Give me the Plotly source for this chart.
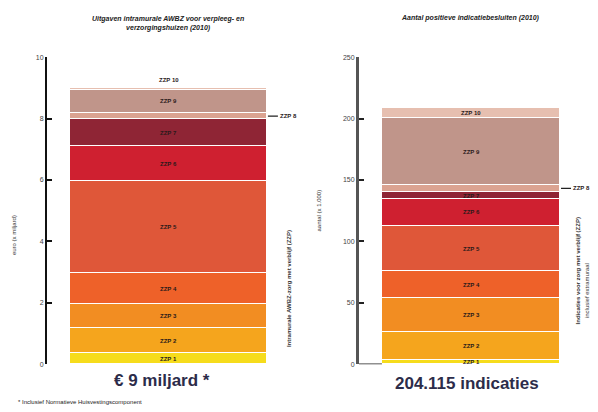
import plotly.graph_objects as go
import numpy as np

categories = ["ZZP 1", "ZZP 2", "ZZP 3", "ZZP 4", "ZZP 5", "ZZP 6", "ZZP 7", "ZZP 8", "ZZP 9", "ZZP 10"]
uitgaven = [0.37, 0.80, 0.80, 0.99, 3.01, 1.12, 0.89, 0.20, 0.76, 0.06]      # miljard euro
indicaties = [3.0, 23.0, 28.0, 21.6, 37.0, 22.0, 5.6, 6.0, 54.0, 8.0]     # x 1.000
colors = ["#f6dc1c", "#f5a51d", "#f28d22", "#ee6129", "#df5739", "#cf2030",
          "#8f2535", "#dba391", "#c0958a", "#e6bfb0"]
left_ticks = [0, 2, 4, 6, 8, 10]
right_ticks = [0, 50, 100, 150, 200, 250]

# page has an 8px body margin -> figure is 590x404 placed at (8, 8)
OFF = 8
W, H = 590, 404
FONT = "Liberation Sans Narrow, Liberation Sans, Arial"
fig = go.Figure()

def px_x(p):
    return (p - OFF) / W

def px_y(p):
    return (H - (p - OFF)) / H

ydom = [px_y(366.5), px_y(54)]
left_dom = [px_x(47), px_x(280)]
right_dom = [px_x(359), px_x(575)]

for i, cat in enumerate(categories):
    fig.add_trace(go.Bar(x=[0], y=[uitgaven[i]], name=cat, marker=dict(color=colors[i], line=dict(color="white", width=1.6)),
                         width=1, xaxis="x", yaxis="y", showlegend=False, hoverinfo="skip"))
    fig.add_trace(go.Bar(x=[0], y=[indicaties[i]], name=cat, marker=dict(color=colors[i], line=dict(color="white", width=1.6)),
                         width=1, xaxis="x2", yaxis="y2", showlegend=False, hoverinfo="skip"))

lab_font = dict(family=FONT, size=6, color="#2a1a1a")
ann = []
for vals, xr, yr, ext in [(uitgaven, "x", "y", {7: "side", 9: "above"}), (indicaties, "x2", "y2", {7: "side"})]:
    cum = np.cumsum([0] + vals)
    for i, cat in enumerate(categories):
        mid = (cum[i] + cum[i + 1]) / 2
        mode = ext.get(i)
        if mode == "side":
            ann.append(dict(x=0.5, y=mid, xref=xr, yref=yr, text="<b>" + cat + "</b>", showarrow=True, ax=10, ay=0,
                            xanchor="left", arrowhead=0, arrowwidth=1.2, arrowcolor="#222",
                            font=lab_font, standoff=0, startstandoff=0))
        elif mode == "above":
            ann.append(dict(x=0, y=cum[i + 1], xref=xr, yref=yr, text="<b>" + cat + "</b>", showarrow=False,
                            yanchor="bottom", yshift=3, font=lab_font))
        else:
            ann.append(dict(x=0, y=mid, xref=xr, yref=yr, text="<b>" + cat + "</b>", showarrow=False, font=lab_font))

title_font = dict(family=FONT, size=7, color="#222")
side_font = dict(family=FONT, size=6, color="#333")

def paper_text(x, y, text, font, **kw):
    d = dict(x=px_x(x), y=px_y(y), xref="paper", yref="paper", showarrow=False, text=text, font=font,
             xanchor="center", yanchor="middle")
    d.update(kw)
    return d

ann += [
    paper_text(168, 20, "<b><i>Uitgaven intramurale AWBZ voor verpleeg- en<br>verzorgingshuizen (2010)</i></b>", title_font),
    paper_text(470, 14, "<b><i>Aantal positieve indicatiebesluiten (2010)</i></b>", title_font),
    paper_text(162, 383, "<b>€ 9 miljard *</b>", dict(family=FONT, size=17, color="#2c2c4a")),
    paper_text(467, 386, "<b>204.115 indicaties</b>", dict(family=FONT, size=17, color="#2c2c4a")),
    paper_text(16, 405, "* Inclusief Normatieve Huisvestingscomponent", dict(family=FONT, size=6, color="#222"),
               xanchor="left"),
    paper_text(9, 235, "euro (x miljard)", side_font, textangle=-90, xanchor="left"),
    paper_text(318, 210, "aantal (x 1.000)", side_font, textangle=-90),
    paper_text(289, 290, "<b>Intramurale AWBZ-zorg met verblijf (ZZP)</b>", side_font, textangle=-90),
    paper_text(578, 272, "<b>Indicaties voor zorg met verblijf (ZZP)</b>", side_font, textangle=-90),
    paper_text(587, 292, "inclusief extramuraal", side_font, textangle=-90),
]

axis_common = dict(showgrid=False, zeroline=False, ticks="inside", ticklen=5, tickwidth=1.5,
                   tickfont=dict(family=FONT, size=7, color="#444"), showline=True)
fig.update_layout(
    width=W, height=H, margin=dict(l=0, r=0, t=0, b=0),
    paper_bgcolor="white", plot_bgcolor="rgba(0,0,0,0)", barmode="stack", bargap=0,
    xaxis=dict(domain=left_dom, range=[-0.616, 0.561], visible=False),
    xaxis2=dict(domain=right_dom, range=[-0.628, 0.578], visible=False),
    yaxis=dict(domain=ydom, range=[0, 10], tickvals=left_ticks, linecolor="#111", linewidth=2,
               tickcolor="#111", anchor="x", **axis_common),
    yaxis2=dict(domain=ydom, range=[0, 250], tickvals=right_ticks, linecolor="#555", linewidth=3,
                tickcolor="#222", anchor="x2", **axis_common),
    annotations=ann,
    shapes=[dict(type="line", xref="x2", yref="y2", x0=-0.628, x1=-0.5, y0=0, y1=0,
                 line=dict(color="#222", width=1.5))],
)
fig.write_html("out.html")
